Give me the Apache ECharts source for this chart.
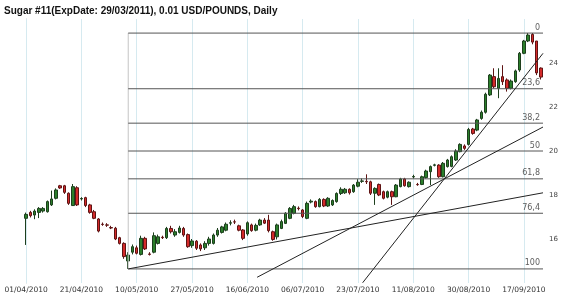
<!DOCTYPE html>
<html><head><meta charset="utf-8">
<script src="https://cdn.jsdelivr.net/npm/echarts@6/dist/echarts.min.js"></script>
<style>html,body{margin:0;padding:0;background:#fff}#c{width:570px;height:300px}</style>
</head><body><div id="c"></div>
<script>
// trading days (2010)
const aprDays = [1,5,6,7,8,9,12,13,14,15,16,19,20,21,22,23,26,27,28,29,30];
const mayDays = [3,4,5,6,7,10,11,12,13,14,17,18,19,20,21,24,25,26,27,28];
const junDays = [1,2,3,4,7,8,9,10,11,14,15,16,17,18,21,22,23,24,25,28,29,30];
const julDays = [1,2,6,7,8,9,12,13,14,15,16,19,20,21,22,23,26,27,28,29,30];
const augDays = [2,3,4,5,6,9,10,11,12,13,16,17,18,19,20,23,24,25,26,27,30,31];
const sepDays = [1,2,3,7,8,9,10,13,14,15,16,17,20,21,22,23];

const openP = [16.94,17.21,17.09,17.21,17.27,17.24,17.55,17.85,18.42,18.42,18.08,17.52,18.33,17.82,17.88,17.55,17.24,16.91,16.67,16.64,16.52,16.49,16.06,15.80,15.00,15.40,15.60,15.30,16.03,15.32,15.40,15.80,16.08,16.06,16.48,16.18,16.30,16.48,16.20,15.70,15.90,15.73,15.60,15.80,15.80,16.18,16.30,16.40,16.72,16.78,16.60,16.41,16.23,16.64,16.40,16.64,16.86,16.86,16.33,16.10,16.48,16.71,16.94,17.17,17.40,17.32,16.94,17.68,17.70,17.47,17.80,17.50,17.55,17.70,18.07,18.10,18.26,18.15,18.40,18.62,18.62,18.60,18.08,18.48,18.15,17.90,18.15,17.92,18.38,18.73,18.38,18.82,18.48,18.48,18.79,19.06,19.35,19.36,18.83,19.29,19.30,19.59,19.97,20.23,20.30,21.00,20.95,21.48,21.76,22.55,23.38,22.85,23.38,23.23,22.85,23.15,23.68,24.44,25.00,25.30,25.00,23.77];
const closeP = [17.12,17.06,17.27,17.39,17.39,17.70,17.82,18.23,18.32,18.12,17.62,18.38,17.55,17.84,17.52,17.21,16.94,16.36,16.66,16.63,16.50,16.00,15.80,15.20,15.27,15.65,15.35,16.03,15.55,15.30,16.15,16.10,16.06,16.48,16.33,16.33,16.50,16.18,15.65,15.91,15.58,15.55,15.80,16.00,16.18,16.40,16.55,16.67,16.74,16.77,16.40,16.03,16.74,16.38,16.62,16.86,16.72,16.38,15.98,16.64,16.79,17.17,17.39,17.47,17.38,17.02,17.62,17.72,17.47,17.80,17.50,17.85,17.75,18.07,18.26,18.26,18.10,18.45,18.58,18.64,18.60,18.08,18.30,18.00,17.85,18.15,17.92,18.45,18.73,18.42,18.58,18.84,18.47,18.83,19.09,19.29,19.37,18.83,19.44,19.59,19.74,20.00,20.30,20.12,20.98,20.80,21.41,21.76,22.58,23.45,22.92,23.30,23.15,22.85,23.18,23.64,24.44,25.00,25.27,24.95,23.55,23.36];
const lowP = [15.73,16.98,16.90,16.95,17.20,17.20,17.50,17.80,18.28,18.05,17.55,17.50,17.50,17.75,17.45,17.15,16.90,16.30,16.60,16.55,16.45,15.95,15.75,15.10,14.64,15.30,15.30,15.25,15.50,15.25,15.35,15.75,16.00,16.00,16.25,16.10,16.25,16.10,15.60,15.60,15.50,15.45,15.50,15.70,15.75,16.10,16.25,16.35,16.62,16.68,16.35,15.95,16.15,16.33,16.35,16.60,16.68,16.30,15.92,15.98,16.45,16.68,16.90,17.12,17.30,16.95,16.90,17.62,17.42,17.44,17.45,17.46,17.50,17.65,18.00,18.05,18.02,18.10,18.35,18.55,18.50,18.00,17.55,17.95,17.80,17.85,17.55,17.90,18.35,18.38,18.34,18.75,18.42,18.45,18.75,18.45,19.30,18.78,18.80,19.25,19.26,19.55,19.94,20.05,20.25,20.74,20.90,21.42,21.70,22.50,22.85,22.40,23.00,22.70,22.80,23.10,23.60,24.40,24.95,24.85,23.45,23.25];
const highP = [17.20,17.28,17.35,17.45,17.45,17.75,18.20,18.30,18.46,18.46,18.12,18.50,18.40,17.90,17.92,17.60,17.32,16.95,16.75,16.72,16.60,16.55,16.10,15.85,15.40,15.75,15.70,16.15,16.10,15.40,16.30,16.20,16.15,16.55,16.60,16.45,16.60,16.55,16.25,16.00,15.95,15.80,15.90,16.10,16.25,16.50,16.60,16.75,16.85,16.88,16.65,16.45,16.80,16.70,16.70,16.92,16.95,17.10,16.38,16.70,16.88,17.22,17.45,17.55,17.48,17.36,17.70,17.80,17.75,17.86,17.85,17.90,17.80,18.12,18.35,18.32,18.30,18.50,18.72,18.75,18.94,18.65,18.35,18.52,18.20,18.20,18.20,18.50,18.78,18.78,18.62,18.92,18.55,18.88,19.15,19.34,19.42,19.40,19.50,19.64,19.80,20.08,20.35,20.30,21.05,21.05,21.46,21.84,22.65,23.50,23.76,23.76,23.90,23.30,23.25,23.70,24.50,25.05,25.36,25.36,25.00,23.80];

const fibRatios = [0, 23.6, 38.2, 50, 61.8, 76.4, 100];
const fibLabels = ['0', '23,6', '38,2', '50', '61,8', '76,4', '100'];
// trend lines: [startIndex, startPrice, endIndex, endPrice]
const trendLines = [[24, 14.64, 121.5, 18.10], [54.3, 14.26, 121.5, 21.09], [79.1, 14.01, 121.5, 24.44]];
const yTicks = [16, 18, 20, 22, 24];

const pad = n => (n < 10 ? '0' : '') + n;
const dates = [];
[[aprDays, 4], [mayDays, 5], [junDays, 6], [julDays, 7], [augDays, 8], [sepDays, 9]].forEach(([days, m]) => {
  days.forEach(d => dates.push(pad(d) + '/' + pad(m) + '/2010'));
});
const candles = dates.map((d, i) => [openP[i], closeP[i], lowP[i], highP[i]]);
const fibHigh = Math.max(...highP), fibLow = Math.min(...lowP);
const lowIdx = lowP.indexOf(fibLow);
const lastEdge = dates.length - 0.5;
const fibLevels = fibRatios.map(r => fibHigh - r / 100 * (fibHigh - fibLow));
const labelStep = 13;
const gridDates = dates.filter((d, i) => i % labelStep === 0);

const series = [{
  type: 'candlestick', data: candles, barWidth: 3,
  itemStyle: {color: '#2b7f2b', color0: '#d42a2a', borderColor: '#1d3f1d', borderColor0: '#5e1414', borderWidth: 1},
  markLine: {silent: true, symbol: 'none', z: 1, animation: false, label: {show: false},
    lineStyle: {color: '#d6eaf0', type: 'solid', width: 1},
    data: gridDates.map(d => ({xAxis: d}))}
}, {
  type: 'line', xAxisIndex: 1, data: [[lowIdx, fibHigh], [lowIdx, fibLow]], symbol: 'none', silent: true,
  lineStyle: {color: '#c4c4c4', width: 1}
}];
fibLevels.forEach(v => series.push({
  type: 'line', xAxisIndex: 1, data: [[lowIdx, v], [lastEdge, v]], symbol: 'none', silent: true,
  lineStyle: {color: '#555', width: 1}
}));
series.push({
  type: 'scatter', xAxisIndex: 1, symbolSize: 1, silent: true, itemStyle: {color: 'rgba(0,0,0,0)'},
  data: fibLevels.map((v, k) => ({value: [lastEdge, v], name: fibLabels[k]})),
  label: {show: true, position: 'top', align: 'right', distance: 1, offset: [-3, 0],
    formatter: p => p.name, fontFamily: 'DejaVu Sans', fontSize: 8, color: '#333'}
});
trendLines.forEach(t => series.push({
  type: 'line', xAxisIndex: 1, data: [[t[0], t[1]], [t[2], t[3]]], symbol: 'none', silent: true,
  lineStyle: {color: '#222', width: 1}
}));

const chart = echarts.init(document.getElementById('c'));
chart.setOption({
  animation: false,
  title: {text: 'Sugar #11(ExpDate: 29/03/2011), 0.01 USD/POUNDS, Daily', left: 4, top: 6, padding: 0,
    textStyle: {fontFamily: 'Liberation Sans', fontWeight: 'bold', fontSize: 10, color: '#111'}},
  grid: {left: 24, right: 27, top: 19, bottom: 17},
  xAxis: [{
    type: 'category', data: dates, boundaryGap: true,
    axisLine: {show: false}, axisTick: {show: false}, splitLine: {show: false},
    axisLabel: {interval: labelStep - 1, fontFamily: 'DejaVu Sans', fontSize: 7.5, color: '#333', margin: 3}
  }, {
    type: 'value', min: -0.5, max: lastEdge, show: false
  }],
  yAxis: {
    type: 'value', position: 'right', min: 14, max: 26, interval: 2, scale: true,
    axisLine: {show: true, lineStyle: {color: '#ccc'}}, axisTick: {show: false}, splitLine: {show: false},
    axisLabel: {showMinLabel: false, showMaxLabel: false, fontFamily: 'DejaVu Sans', fontSize: 7, color: '#444', margin: 6,
      formatter: v => (yTicks.indexOf(v) >= 0 ? String(v) : '')}
  },
  series: series
});
</script></body></html>
